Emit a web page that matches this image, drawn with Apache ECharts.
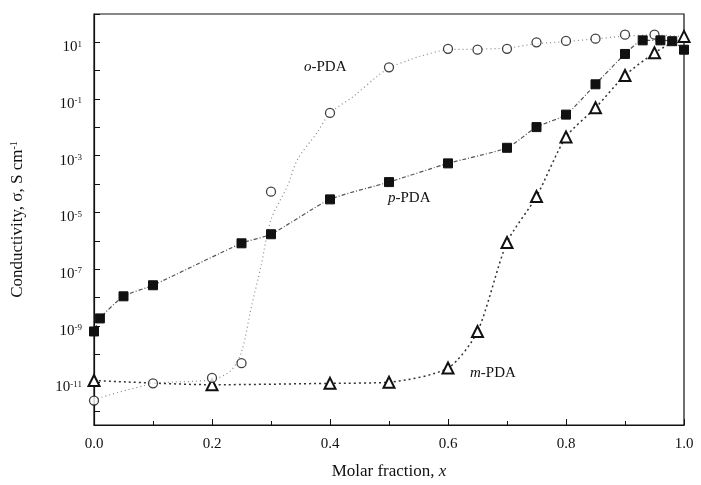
<!DOCTYPE html>
<html>
<head>
<meta charset="utf-8">
<script src="https://cdn.jsdelivr.net/npm/echarts@6/dist/echarts.min.js"></script>
<style>
html,body{margin:0;padding:0;background:#fff;}
#chart{width:701px;height:485px;}
</style>
</head>
<body>
<div id="chart"></div>
<script>
// values are log10 of conductivity (S cm^-1)
var oX = [0, 0.1, 0.2, 0.25, 0.3, 0.4, 0.5, 0.6, 0.65, 0.7, 0.75, 0.8, 0.85, 0.9, 0.95];
var oY = [-11.64, -11.03, -10.84, -10.32, -4.27, -1.49, 0.12, 0.77, 0.74, 0.77, 1.0, 1.05, 1.13, 1.27, 1.27];
// o-PDA fitted curve
var oFitX = [0, 0.1, 0.2, 0.232, 0.25, 0.266, 0.283, 0.3, 0.328, 0.345, 0.378, 0.4, 0.44, 0.48, 0.5, 0.536, 0.553, 0.6, 0.65, 0.7, 0.75, 0.8, 0.85, 0.9, 0.95, 1.0];
var oFitY = [-11.6, -11.05, -10.9, -10.58, -9.92, -8.4, -6.9, -5.25, -4.07, -3.13, -2.19, -1.5, -0.9, -0.2, 0.1, 0.39, 0.51, 0.74, 0.76, 0.8, 0.95, 1.03, 1.12, 1.22, 1.26, 1.2];

var pX = [0, 0.01, 0.05, 0.1, 0.25, 0.3, 0.4, 0.5, 0.6, 0.7, 0.75, 0.8, 0.85, 0.9, 0.93, 0.96, 0.98, 1.0];
var pY = [-9.2, -8.74, -7.96, -7.57, -6.09, -5.77, -4.54, -3.93, -3.27, -2.72, -1.99, -1.55, -0.48, 0.59, 1.07, 1.07, 1.04, 0.74];

var mX = [0, 0.2, 0.4, 0.5, 0.6, 0.65, 0.7, 0.75, 0.8, 0.85, 0.9, 0.95, 1.0];
var mY = [-10.93, -11.08, -11.03, -10.99, -10.49, -9.2, -6.06, -4.44, -2.34, -1.31, -0.17, 0.63, 1.21];

var yTickVals = [-12, -11, -10, -9, -8, -7, -6, -5, -4, -3, -2, -1, 0, 1, 2];
var yLabelVals = [-11, -9, -7, -5, -3, -1, 1];
var xLabels = ['0.0', '0.2', '0.4', '0.6', '0.8', '1.0'];

function pairs(xs, ys) { return xs.map(function (x, i) { return [x, ys[i]]; }); }

var serif = '"Liberation Serif", "DejaVu Serif", serif';
var chart = echarts.init(document.getElementById('chart'));
chart.setOption({
  animation: false,
  backgroundColor: '#fff',
  grid: { left: 94, right: 17, top: 14, bottom: 60, show: true, borderColor: '#111', borderWidth: 1.2 },
  xAxis: {
    type: 'value', min: 0, max: 1, interval: 0.2,
    name: '{r|Molar fraction, }{i|x}', nameLocation: 'middle', nameGap: 38,
    nameTextStyle: { rich: { r: { fontFamily: serif, fontSize: 17, color: '#111' }, i: { fontFamily: serif, fontSize: 17, fontStyle: 'italic', color: '#111' } } },
    axisLine: { onZero: false, lineStyle: { color: '#111', width: 1.2 } },
    axisTick: { inside: true, length: 6, lineStyle: { color: '#111' } },
    minorTick: { show: true, splitNumber: 2, length: 4, lineStyle: { color: '#111' } },
    splitLine: { show: false },
    axisLabel: { fontFamily: serif, fontSize: 15, color: '#111', margin: 12,
      formatter: function (v) { return xLabels[Math.round(v / 0.2)]; } }
  },
  yAxis: {
    type: 'value', min: -12.5, max: 2,
    name: '{r|Conductivity, σ, S cm}{s|-1}', nameLocation: 'middle', nameRotate: 90, nameGap: 68,
    nameTextStyle: { rich: { r: { fontFamily: serif, fontSize: 17, color: '#111' }, s: { fontFamily: serif, fontSize: 10, color: '#111', verticalAlign: 'top' } } },
    axisLine: { onZero: false, lineStyle: { color: '#111', width: 1.2 } },
    axisTick: { inside: true, length: 6, customValues: yTickVals, lineStyle: { color: '#111' } },
    splitLine: { show: false },
    axisLabel: {
      customValues: yLabelVals, margin: 12, padding: [10, 0, 0, 0],
      formatter: function (v) { return '{b|10}{s|' + v + '}'; },
      rich: {
        b: { fontFamily: serif, fontSize: 15, color: '#111' },
        s: { fontFamily: serif, fontSize: 9, color: '#111', verticalAlign: 'top' }
      }
    }
  },
  series: [
    { type: 'line', data: pairs(oFitX, oFitY), smooth: 0.3, symbol: 'none', z: 1,
      lineStyle: { color: '#888', width: 1.2, type: [1, 3] } },
    { type: 'scatter', data: pairs(oX, oY), symbol: 'circle', symbolSize: 9, z: 3,
      itemStyle: { color: '#fff', borderColor: '#111', borderWidth: 1.3 } },
    { type: 'line', data: pairs(pX, pY), smooth: 0.2, symbol: 'rect', symbolSize: 9, z: 4,
      lineStyle: { color: '#555', width: 1.2, type: [4, 2, 1, 2] },
      itemStyle: { color: '#111', borderColor: '#111' } },
    { type: 'line', data: pairs(mX, mY), smooth: 0.25, symbol: 'triangle', symbolSize: 11, z: 2,
      lineStyle: { color: '#333', width: 1.5, type: [2, 3] },
      itemStyle: { color: '#fff', borderColor: '#111', borderWidth: 2 } }
  ],
  graphic: [
    { type: 'text', left: 304, top: 60, z: 10, style: { text: '{i|o}{r|-PDA}', rich: { i: { fontFamily: serif, fontSize: 15, fontStyle: 'italic', fill: '#111' }, r: { fontFamily: serif, fontSize: 15, fill: '#111' } } } },
    { type: 'text', left: 388, top: 191, z: 10, style: { text: '{i|p}{r|-PDA}', rich: { i: { fontFamily: serif, fontSize: 15, fontStyle: 'italic', fill: '#111' }, r: { fontFamily: serif, fontSize: 15, fill: '#111' } } } },
    { type: 'text', left: 470, top: 366, z: 10, style: { text: '{i|m}{r|-PDA}', rich: { i: { fontFamily: serif, fontSize: 15, fontStyle: 'italic', fill: '#111' }, r: { fontFamily: serif, fontSize: 15, fill: '#111' } } } }
  ]
});
</script>
</body>
</html>
